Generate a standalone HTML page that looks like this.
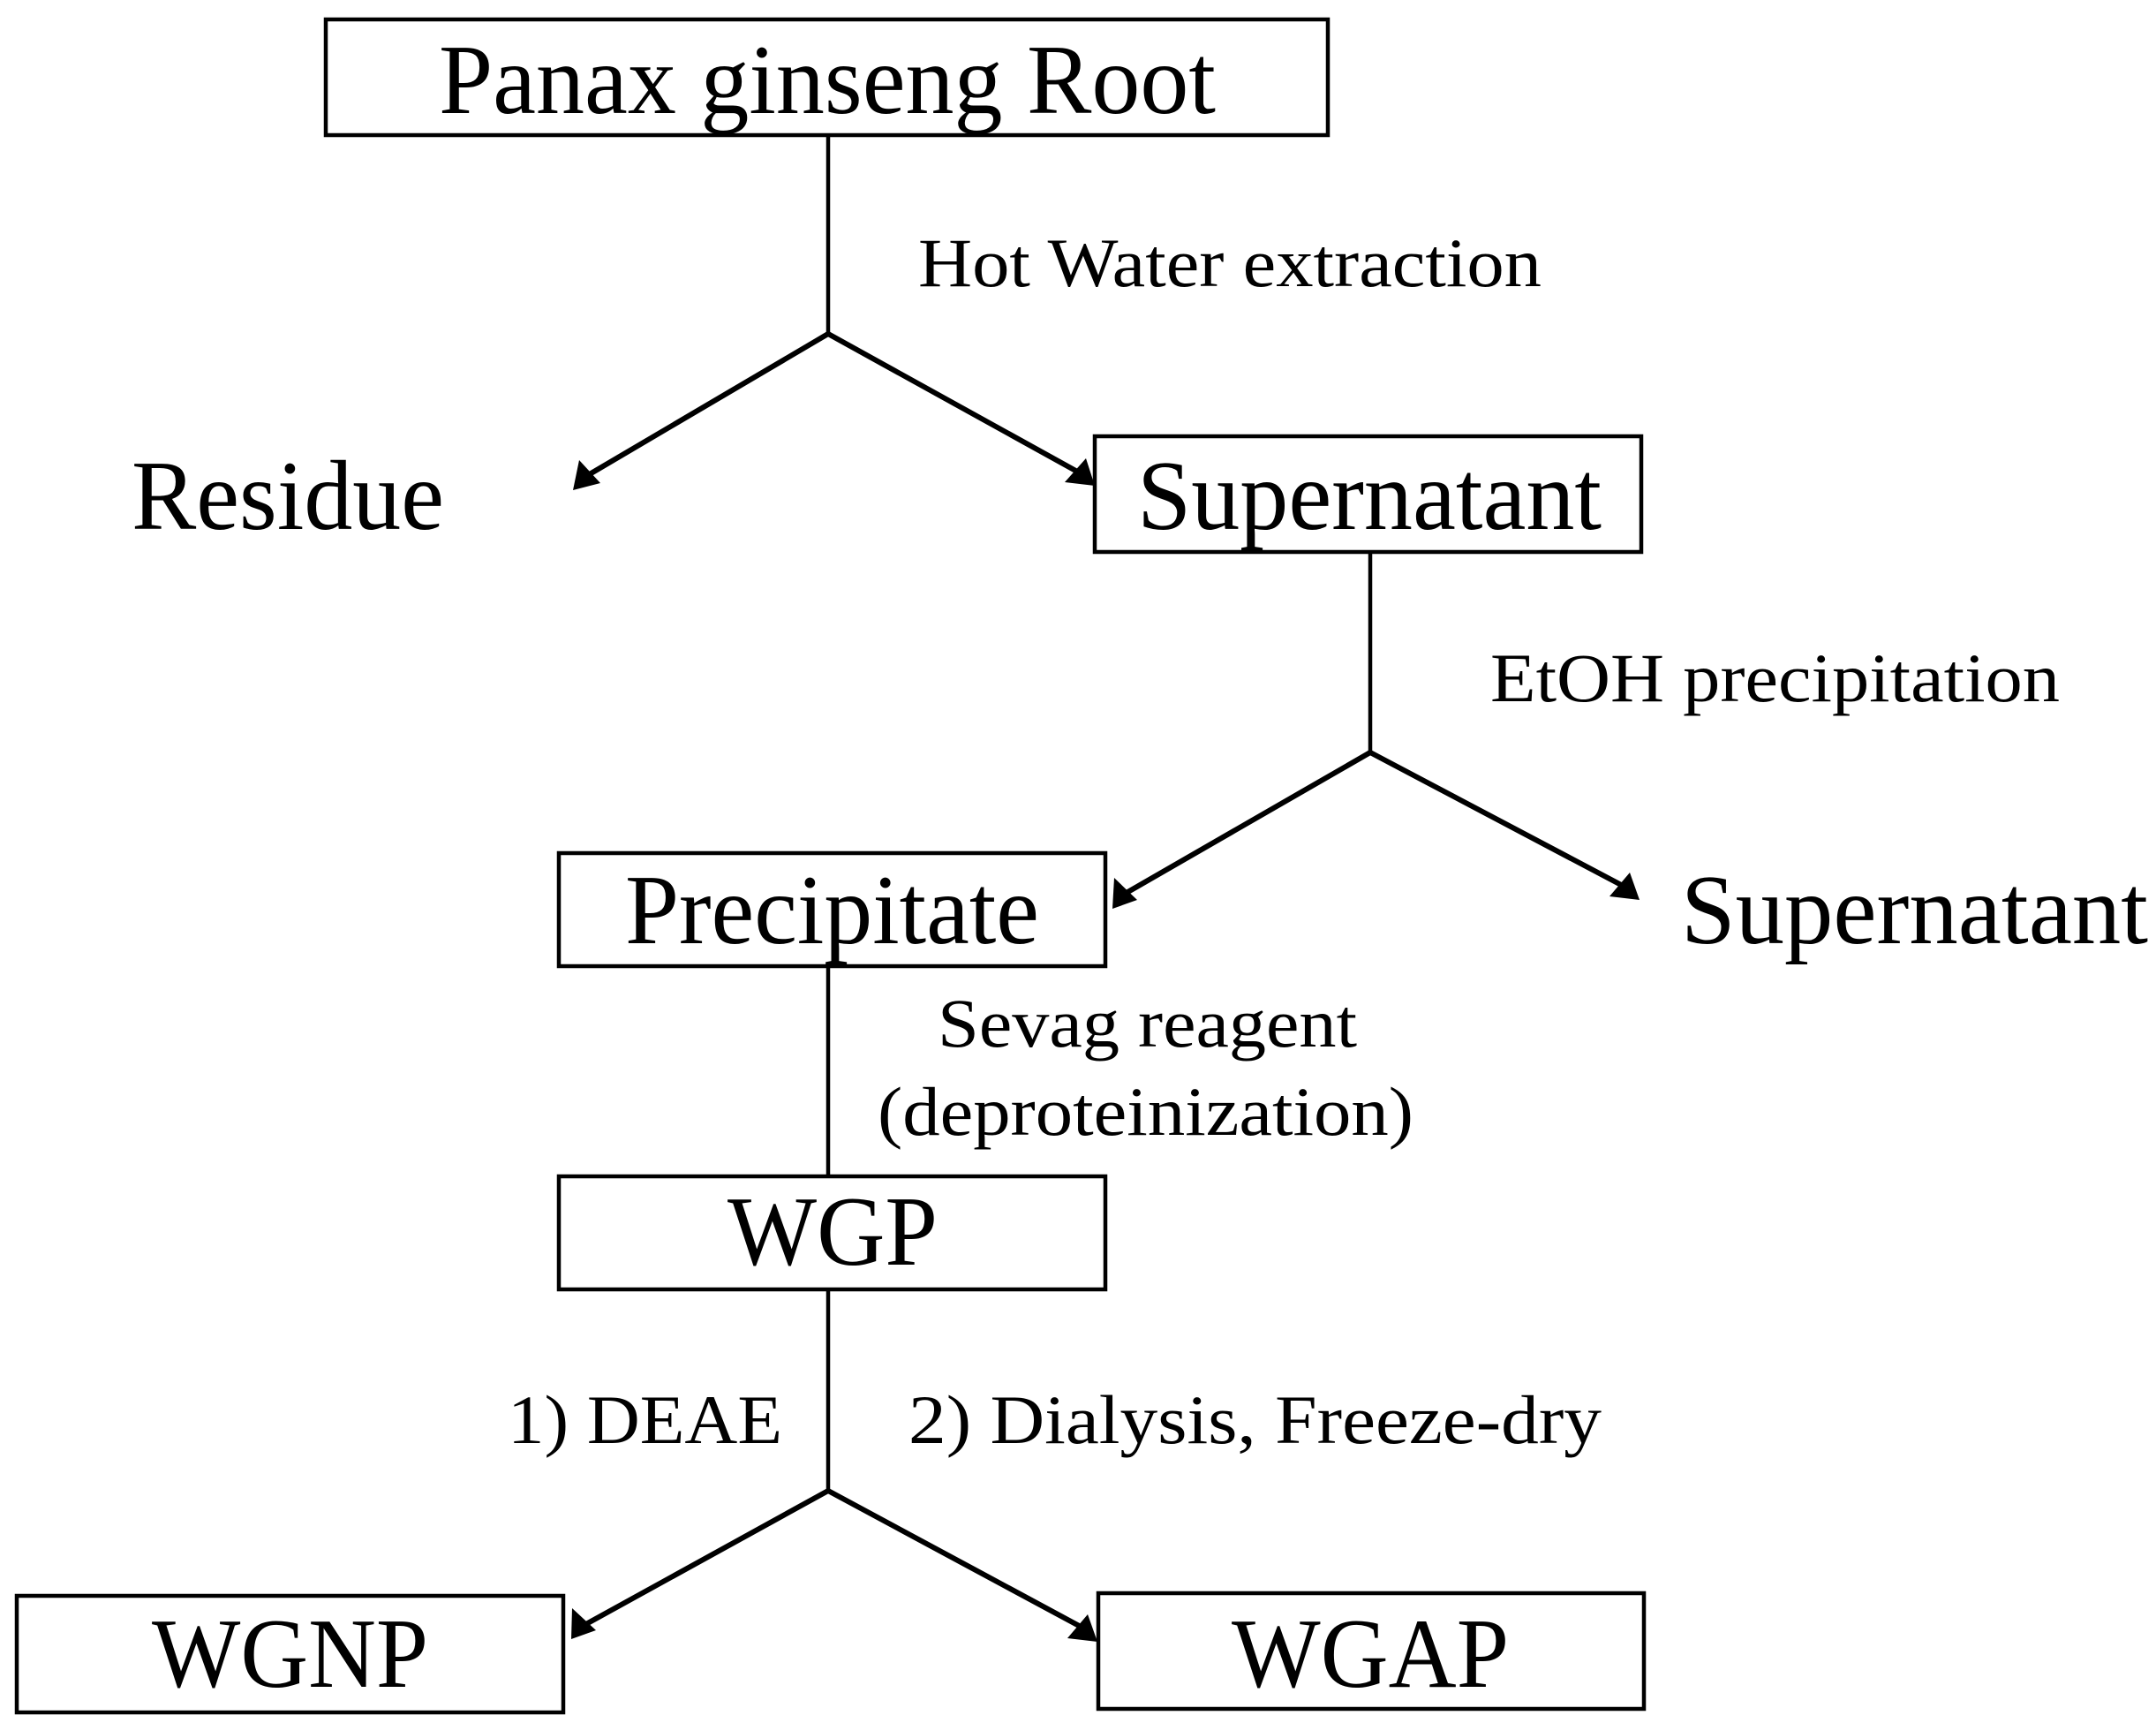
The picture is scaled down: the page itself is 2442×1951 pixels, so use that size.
<!DOCTYPE html>
<html><head><meta charset="utf-8"><style>html,body{margin:0;padding:0;background:#fff}svg{display:block}</style></head>
<body>
<svg width="2442" height="1951" viewBox="0 0 2442 1951" xmlns="http://www.w3.org/2000/svg" font-family="'Liberation Serif', serif" fill="#000">
<defs>
<marker id="a" markerWidth="8" markerHeight="8" refX="7" refY="4" orient="auto" markerUnits="userSpaceOnUse" viewBox="0 0 8 8" style="overflow:visible">
<path d="M0,0 L8,4 L0,8 z" transform="scale(4.5) translate(-1,-0)"/>
</marker>
</defs>
<g fill="none" stroke="#000" stroke-width="4.5">
<rect x="369" y="22" width="1135" height="131"/>
<rect x="1240" y="494" width="619" height="131"/>
<rect x="633" y="966" width="619" height="128"/>
<rect x="633" y="1332" width="619" height="128"/>
<rect x="19" y="1807" width="619" height="132"/>
<rect x="1244" y="1804" width="618" height="131"/>
<line x1="938" y1="153" x2="938" y2="378"/>
<line x1="1552" y1="625" x2="1552" y2="852"/>
<line x1="938" y1="1094" x2="938" y2="1332"/>
<line x1="938" y1="1460" x2="938" y2="1688"/>
</g>
<g stroke="#000" stroke-width="6" fill="none">
<line x1="938" y1="378" x2="666" y2="538"/>
<line x1="938" y1="378" x2="1222" y2="535"/>
<line x1="1552" y1="852" x2="1274" y2="1012"/>
<line x1="1552" y1="852" x2="1840" y2="1004"/>
<line x1="938" y1="1688" x2="662" y2="1840"/>
<line x1="938" y1="1688" x2="1226" y2="1843"/>
</g>
<g>
<polygon points="649,555 656,521 680,547"/>
<polygon points="1240,550 1206,546 1230,519"/>
<polygon points="1260,1029 1262,994 1288,1019"/>
<polygon points="1857,1019 1823,1015 1846,988"/>
<polygon points="647,1856 648,1821 675,1846"/>
<polygon points="1243,1859 1209,1855 1232,1828"/>
</g>
<g font-size="112">
<text x="497" y="128" textLength="880" lengthAdjust="spacingAndGlyphs">Panax ginseng Root</text>
<text x="149" y="599" textLength="354" lengthAdjust="spacingAndGlyphs">Residue</text>
<text x="1288" y="599" textLength="526" lengthAdjust="spacingAndGlyphs">Supernatant</text>
<text x="708" y="1068" textLength="469" lengthAdjust="spacingAndGlyphs">Precipitate</text>
<text x="1904" y="1068" textLength="529" lengthAdjust="spacingAndGlyphs">Supernatant</text>
<text x="824" y="1432" textLength="238" lengthAdjust="spacingAndGlyphs">WGP</text>
<text x="172" y="1910" textLength="313" lengthAdjust="spacingAndGlyphs">WGNP</text>
<text x="1395" y="1910" textLength="314" lengthAdjust="spacingAndGlyphs">WGAP</text>
</g>
<g font-size="78">
<text x="1040" y="324" textLength="706" lengthAdjust="spacingAndGlyphs">Hot Water extraction</text>
<text x="1688" y="794" textLength="645" lengthAdjust="spacingAndGlyphs">EtOH precipitation</text>
<text x="1062" y="1185" textLength="475" lengthAdjust="spacingAndGlyphs">Sevag reagent</text>
<text x="994" y="1285" textLength="607" lengthAdjust="spacingAndGlyphs">(deproteinization)</text>
<text x="575" y="1634" textLength="311" lengthAdjust="spacingAndGlyphs">1) DEAE</text>
<text x="1029" y="1634" textLength="785" lengthAdjust="spacingAndGlyphs">2) Dialysis, Freeze-dry</text>
</g>
</svg>
</body></html>
